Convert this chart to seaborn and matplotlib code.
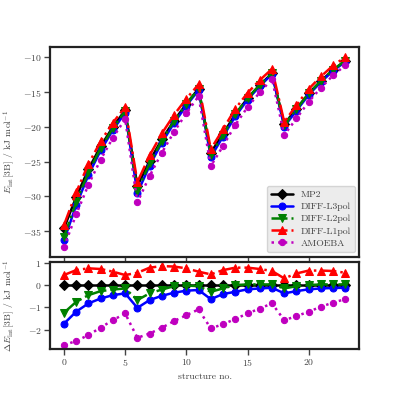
import numpy as np
import pandas as pd
import seaborn as sns
import matplotlib
matplotlib.use("Agg")
import matplotlib.pyplot as plt

# Reference energies and deviations
structure = list(range(24))
mp2 = [-34.6, -30.1, -26.1, -22.8, -20.0, -17.6, -28.5, -24.9, -21.8, -19.1, -16.7, -14.5,
       -23.7, -21.0, -18.2, -15.9, -14.0, -12.3, -19.6, -17.4, -15.2, -13.4, -11.8, -10.5]
d_l3pol = [-1.73, -1.19, -0.82, -0.60, -0.45, -0.37, -1.02, -0.67, -0.48, -0.34, -0.25, -0.22,
           -0.63, -0.40, -0.30, -0.19, -0.15, -0.12, -0.37, -0.27, -0.19, -0.15, -0.13, -0.12]
d_l2pol = [-1.24, -0.75, -0.45, -0.27, -0.20, -0.15, -0.67, -0.37, -0.20, -0.05, -0.02, -0.05,
           -0.30, -0.15, 0.00, 0.03, 0.03, 0.03, -0.15, -0.05, 0.00, 0.03, 0.03, 0.03]
d_l1pol = [0.45, 0.67, 0.75, 0.72, 0.60, 0.45, 0.55, 0.78, 0.85, 0.83, 0.75, 0.60,
           0.48, 0.67, 0.78, 0.78, 0.72, 0.63, 0.30, 0.52, 0.65, 0.65, 0.63, 0.55]
d_amoeba = [-2.69, -2.50, -2.24, -1.90, -1.57, -1.27, -2.36, -2.17, -1.91, -1.61, -1.35, -1.09,
            -1.94, -1.75, -1.52, -1.27, -1.05, -0.82, -1.57, -1.39, -1.19, -0.97, -0.78, -0.63]

methods = ["MP2", "DIFF-L3pol", "DIFF-L2pol", "DIFF-L1pol", "AMOEBA"]
deltas = [[0.0] * 24, d_l3pol, d_l2pol, d_l1pol, d_amoeba]
colors = ["k", "b", "g", "r", "m"]
markers = ["D", "o", "v", "^", "o"]
msizes = [5, 5, 5.5, 5.5, 4.5]
linestyles = ["-", "-", "-.", "-.", ":"]

sns.set_style("ticks")
plt.rcParams["font.family"] = "serif"
plt.rcParams["font.serif"] = ["cmr10", "DejaVu Serif"]
plt.rcParams["mathtext.fontset"] = "cm"
plt.rcParams["axes.formatter.use_mathtext"] = True
plt.rcParams["axes.unicode_minus"] = True

fig = plt.figure(figsize=(3.99, 3.99), dpi=100)
ax_top = fig.add_axes([0.125, 0.357, 0.776, 0.524])
ax_bot = fig.add_axes([0.125, 0.125, 0.776, 0.218], sharex=ax_top)

for name, delta, c, m, ms, ls in zip(methods, deltas, colors, markers, msizes, linestyles):
    energy = np.array(mp2) + np.array(delta)
    sns.lineplot(x=structure, y=energy, ax=ax_top, color=c, marker=m, linestyle=ls,
                 linewidth=1.8, markersize=ms, markeredgecolor=c, label=name)
    sns.lineplot(x=structure, y=delta, ax=ax_bot, color=c, marker=m, linestyle=ls,
                 linewidth=1.8, markersize=ms, markeredgecolor=c, legend=False)

for ax in (ax_top, ax_bot):
    for sp in ax.spines.values():
        sp.set_visible(True)
        sp.set_linewidth(1.6)
        sp.set_color("#222222")
    ax.tick_params(labelsize=7, direction="out", width=1, length=4, colors="#444444", pad=2)

ax_top.set_yticks([-35, -30, -25, -20, -15, -10])
ax_top.tick_params(labelbottom=False)
ax_top.set_ylabel(r"$E_{\rm int}[3{\rm B}]$ / kJ mol$^{-1}$", fontsize=7, color="#444444", labelpad=3)
ax_top.set_xlabel("")

ax_bot.set_yticks([-2, -1, 0, 1])
ax_bot.set_xticks([0, 5, 10, 15, 20])
ax_bot.set_ylabel(r"$\Delta E_{\rm int}[3{\rm B}]$ / kJ mol$^{-1}$", fontsize=7, color="#444444", labelpad=3)
ax_bot.set_xlabel("structure no.", fontsize=7, color="#444444", labelpad=3)
ax_top.yaxis.set_label_coords(-0.105, 0.5)
ax_bot.yaxis.set_label_coords(-0.105, 0.5)

leg = ax_top.legend(loc="lower right", fontsize=7, frameon=True, fancybox=True,
                    handlelength=2.2, borderpad=0.4, labelspacing=0.35)
leg.get_frame().set_facecolor("#e8e8e8")
leg.get_frame().set_edgecolor("#cccccc")
for t in leg.get_texts():
    t.set_color("#444444")

fig.savefig("out.png", dpi=100)
